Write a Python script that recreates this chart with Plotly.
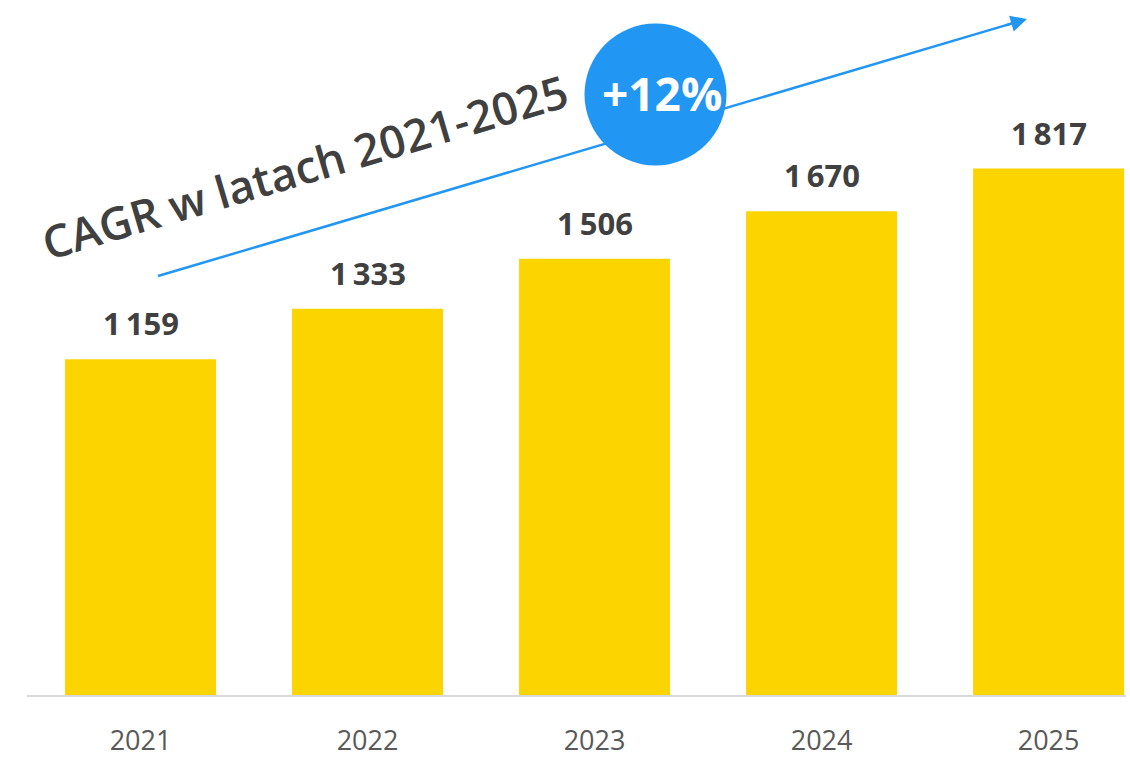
import math
import plotly.graph_objects as go

# Data
years = ["2021", "2022", "2023", "2024", "2025"]
values = [1159, 1333, 1506, 1670, 1817]
cagr_label = "+12%"
cagr_title = "CAGR w latach 2021-2025"

W, H = 1130, 759
M_L, M_R, M_T, M_B = 27, 4, 0, 64
PLOT_W = W - M_L - M_R
PLOT_H = H - M_T - M_B

BAR_COLOR = "#FCD400"
BLUE = "#2196F3"
LABEL_COLOR = "#404040"
TICK_COLOR = "#595959"
FONT = "Open Sans, Roboto, sans-serif"


def paper(x_px, y_px):
    """Convert page pixel position to paper coordinates."""
    return (x_px - M_L) / PLOT_W, (H - M_B - y_px) / PLOT_H


def fmt(v):
    return f"{v:,}".replace(",", "\u2009")


fig = go.Figure(
    go.Bar(
        x=years,
        y=values,
        marker=dict(color=BAR_COLOR, line=dict(width=0)),
        hoverinfo="skip",
    )
)

# Value labels above bars
for i, v in enumerate(values):
    fig.add_annotation(
        x=i, y=v, xref="x", yref="y",
        text=fmt(v), showarrow=False,
        xanchor="center", yanchor="bottom", yshift=13,
        font=dict(family=FONT, size=31, color=LABEL_COLOR, weight="bold"),
    )

# Trend arrow (line as shape so the circle can sit on top of it)
x0p, y0p = 158, 276
x1p, y1p = 1027, 19
ang = math.atan2(y0p - y1p, x1p - x0p)
head = 12
xe, ye = x1p - head * math.cos(ang), y1p + head * math.sin(ang)
sx, sy = paper(x0p, y0p)
ex, ey = paper(xe, ye)
fig.add_shape(type="line", xref="paper", yref="paper",
              x0=sx, y0=sy, x1=ex, y1=ey,
              line=dict(color=BLUE, width=2.5), layer="above")

# Arrow head
tx, ty = paper(x1p, y1p)
fig.add_annotation(
    x=tx, y=ty, xref="paper", yref="paper", text="", showarrow=True,
    ax=-24 * math.cos(ang), ay=24 * math.sin(ang),
    arrowhead=2, arrowsize=1.3, arrowwidth=2.5, arrowcolor=BLUE,
)

# CAGR badge
cx, cy = paper(655.5, 94.5)
r = 71
fig.add_shape(type="circle", xref="paper", yref="paper",
              xsizemode="pixel", ysizemode="pixel",
              xanchor=cx, yanchor=cy, x0=-r, x1=r, y0=-r, y1=r,
              fillcolor=BLUE, line=dict(width=0), layer="above")
bx, by = paper(662, 93)
fig.add_annotation(
    x=bx, y=by, xref="paper", yref="paper", text=cagr_label, showarrow=False,
    xanchor="center", yanchor="middle",
    font=dict(family=FONT, size=46, color="white", weight="bold"),
)

# Rotated title along the arrow
lx, ly = paper(304, 166)
fig.add_annotation(
    x=lx, y=ly, xref="paper", yref="paper", text=cagr_title, showarrow=False,
    xanchor="center", yanchor="middle", textangle=-math.degrees(ang),
    font=dict(family=FONT, size=45, color=LABEL_COLOR, weight=600),
)

fig.update_layout(
    width=W, height=H,
    margin=dict(l=M_L, r=M_R, t=M_T, b=M_B, autoexpand=False),
    plot_bgcolor="white", paper_bgcolor="white",
    bargap=0.335, showlegend=False,
    xaxis=dict(
        type="category", range=[-0.5, 4.341], automargin=False,
        showgrid=False, zeroline=False,
        showline=True, linecolor="#D9D9D9", linewidth=2,
        ticks="", ticklabelstandoff=21,
        tickfont=dict(family=FONT, size=27, color=TICK_COLOR),
    ),
    yaxis=dict(range=[0, 2399], visible=False, showgrid=False,
               zeroline=False, automargin=False),
)

fig.write_html("out.html")
